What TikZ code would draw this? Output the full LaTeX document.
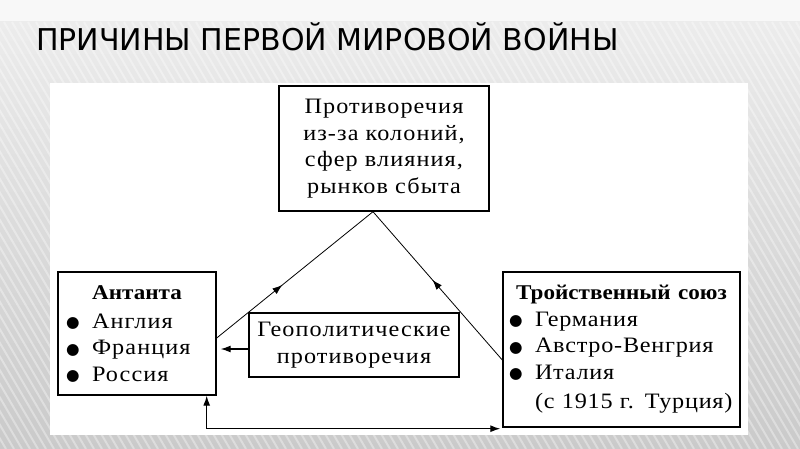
\documentclass[tikz,border=0pt]{standalone}
\usepackage{fontspec}
\setmainfont{Liberation Serif}
\newfontfamily\txt{Liberation Serif}[FakeStretch=1.1,LetterSpace=5]
\newfontfamily\txtn{Liberation Serif}[FakeStretch=1.1,LetterSpace=3.5]
\newfontfamily\hd{Liberation Serif}[FakeStretch=1.1]
\newfontfamily\titlefont{DejaVu Sans}
\newfontfamily\dvs{DejaVu Sans}
\usetikzlibrary{arrows.meta,decorations.markings,calc}
\definecolor{bgtop}{HTML}{F8F8F8}
\definecolor{bgmid}{HTML}{ECECEC}
\definecolor{bgbot}{HTML}{CACACA}
\newcommand\bul{\makebox[26pt][l]{\smash{\raisebox{0.8pt}{\dvs\fontsize{15.5}{15.5}\selectfont ●}}}}
\begin{document}
\begin{tikzpicture}[x=1pt,y=-1pt,
  boxstyle/.style={draw=black,line width=1.4pt,fill=white,inner ysep=0pt,
    font=\txt\fontsize{22}{26.5}\selectfont},
  tip/.style={-{Latex[length=10pt,width=7pt]}},
  bitip/.style={{Latex[length=10pt,width=7pt]}-{Latex[length=10pt,width=7pt]}},
  conn/.style={line width=1.2pt},
  diag/.style={line width=0.8pt,decoration={markings,
    mark=at position #1 with {\arrow{Latex[length=10pt,width=7pt]}}},postaction=decorate}]
\useasboundingbox (0,0) rectangle (800,449);
% background
\fill[bgtop] (0,0) rectangle (800,22);
\shade[top color=bgmid,bottom color=bgbot] (0,22) rectangle (800,449);
\begin{scope}
\clip (0,22) rectangle (800,449);
\foreach \i in {-300,-292,...,800}
  \draw[white,opacity=0.35,line width=2pt] (\i,22) -- (\i+250,449);
\end{scope}
\fill[white] (50,83) rectangle (748,435);
% title
\node[anchor=base west,inner sep=0pt,font=\titlefont\fontsize{30}{30}\selectfont] (title) at (36,51) {ПРИЧИНЫ ПЕРВОЙ МИРОВОЙ ВОЙНЫ};
% boxes
\node[boxstyle,minimum width=210pt,minimum height=125pt,align=center] (top) at (384,148.5)
  {Противоречия\\из-за колоний,\\сфер влияния,\\рынков сбыта};
\node[boxstyle,minimum width=158pt,minimum height=123pt,inner xsep=8pt,text width=142pt,align=left] (ant) at (137,333.5)
  {\makebox[\linewidth]{\hd\bfseries\fontsize{21}{26.5}\selectfont Антанта}\\[2.5pt]\bul Англия\\\bul Франция\\\bul Россия};
\node[boxstyle,font=\txtn\fontsize{22}{26.5}\selectfont,minimum width=237pt,minimum height=155pt,inner xsep=6pt,text width=225pt,align=left] (trio) at (621.5,349.5)
  {\makebox[\linewidth]{\hd\bfseries\fontsize{21}{26.5}\selectfont Тройственный союз}\\\bul Германия\\\bul Австро-Венгрия\\\bul Италия\\[3pt]\hspace*{26pt}\makebox[0pt][l]{(с 1915 г. Турция)}};
\node[boxstyle,minimum width=210pt,minimum height=64pt,align=center] (geo) at (354,345)
  {Геополитические\\противоречия};
% connectors
\coordinate (apex) at ([xshift=-11pt]top.south);
\draw[diag=0.42] ([yshift=-4.5pt]ant.east) -- (apex);
\draw[diag=0.54] ([yshift=-10.5pt]trio.west) -- (apex);
\draw[conn,tip] ([yshift=-4pt]geo.west) -- ([yshift=-4pt,xshift=4pt]geo.west -| ant.east);
\draw[conn,bitip] ([xshift=-10pt]ant.south east) |- ([yshift=-1pt,xshift=-2pt]trio.south west);
\end{tikzpicture}
\end{document}
